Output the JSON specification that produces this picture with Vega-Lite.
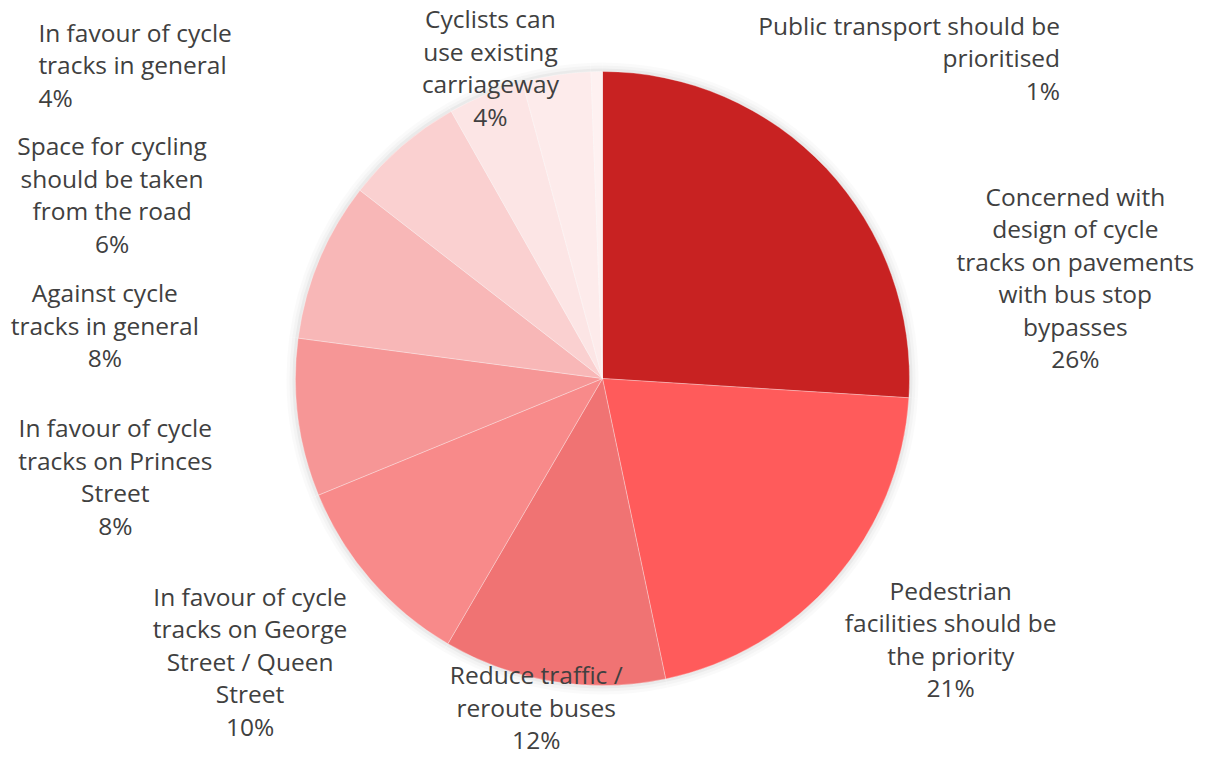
{
  "$schema": "https://vega.github.io/schema/vega-lite/v6.json",
  "width": 1205,
  "height": 757,
  "autosize": {"type": "none"},
  "padding": 0,
  "background": "#ffffff",
  "config": {"view": {"stroke": null}},
  "data": {
    "values": [
      {"idx": 1, "cat": "Concerned with design of cycle tracks on pavements with bus stop bypasses", "value": 26.0, "label": ["Concerned with", "design of cycle", "tracks on pavements", "with bus stop", "bypasses", "26%"]},
      {"idx": 2, "cat": "Pedestrian facilities should be the priority", "value": 20.7, "label": ["Pedestrian", "facilities should be", "the priority", "21%"]},
      {"idx": 3, "cat": "Reduce traffic / reroute buses", "value": 11.7, "label": ["Reduce traffic /", "reroute buses", "12%"]},
      {"idx": 4, "cat": "In favour of cycle tracks on George Street / Queen Street", "value": 10.4, "label": ["In favour of cycle", "tracks on George", "Street / Queen", "Street", "10%"]},
      {"idx": 5, "cat": "In favour of cycle tracks on Princes Street", "value": 8.3, "label": ["In favour of cycle", "tracks on Princes", "Street", "8%"]},
      {"idx": 6, "cat": "Against cycle tracks in general", "value": 8.4, "label": ["Against cycle", "tracks in general", "8%"]},
      {"idx": 7, "cat": "Space for cycling should be taken from the road", "value": 6.3, "label": ["Space for cycling", "should be taken", "from the road", "6%"]},
      {"idx": 8, "cat": "In favour of cycle tracks in general", "value": 4.0, "label": ["In favour of cycle", "tracks in general", "4%"]},
      {"idx": 9, "cat": "Cyclists can use existing carriageway", "value": 3.6, "label": ["Cyclists can", "use existing", "carriageway", "4%"]},
      {"idx": 10, "cat": "Public transport should be prioritised", "value": 0.6, "label": ["Public transport should be", "prioritised", "1%"]}
    ]
  },
  "encoding": {
    "theta": {"field": "value", "type": "quantitative", "stack": true},
    "order": {"field": "idx", "type": "quantitative"}
  },
  "layer": [
    {"mark": {"type": "arc", "radius": 316, "fill": "#000000", "opacity": 0.018, "strokeWidth": 0}},
    {"mark": {"type": "arc", "radius": 313, "fill": "#000000", "opacity": 0.025, "strokeWidth": 0}},
    {"mark": {"type": "arc", "radius": 310, "fill": "#000000", "opacity": 0.04, "strokeWidth": 0}},
    {
      "mark": {"type": "arc", "radius": 307, "stroke": "#ffffff", "strokeWidth": 0.6, "strokeOpacity": 0.5},
      "encoding": {
        "color": {
          "field": "cat",
          "type": "nominal",
          "legend": null,
          "scale": {
            "domain": [
              "Concerned with design of cycle tracks on pavements with bus stop bypasses",
              "Pedestrian facilities should be the priority",
              "Reduce traffic / reroute buses",
              "In favour of cycle tracks on George Street / Queen Street",
              "In favour of cycle tracks on Princes Street",
              "Against cycle tracks in general",
              "Space for cycling should be taken from the road",
              "In favour of cycle tracks in general",
              "Cyclists can use existing carriageway",
              "Public transport should be prioritised"
            ],
            "range": ["#C82222", "#FF5B5B", "#F07373", "#F88A8A", "#F69696", "#F8B7B7", "#FAD0D0", "#FCE5E5", "#FDEBEB", "#FEF1F1"]
          }
        }
      }
    },
    {
      "mark": {
        "type": "text",
        "radius": 340,
        "font": "Open Sans",
        "fontSize": 24.5,
        "fill": "#404040",
        "lineHeight": 32.5,
        "baseline": "middle",
        "align": {"expr": "datum.idx == 8 ? 'left' : datum.idx == 10 ? 'right' : 'center'"},
        "dx": {"expr": "datum.idx == 1 ? 225 : datum.idx == 2 ? 91 : datum.idx == 3 ? -12 : datum.idx == 4 ? -96 : datum.idx == 5 ? -150 : datum.idx == 6 ? -184 : datum.idx == 7 ? -268 : datum.idx == 8 ? -435 : datum.idx == 9 ? -61 : 464"},
        "dy": {"expr": "datum.idx == 1 ? 53 : datum.idx == 2 ? -8 : datum.idx == 3 ? -37 : datum.idx == 4 ? -3 : datum.idx == 5 ? 8 : datum.idx == 6 ? 48 : datum.idx == 7 ? 27 : datum.idx == 8 ? -29 : datum.idx == 9 ? -21 : -11"}
      },
      "encoding": {"text": {"field": "label"}}
    }
  ]
}
